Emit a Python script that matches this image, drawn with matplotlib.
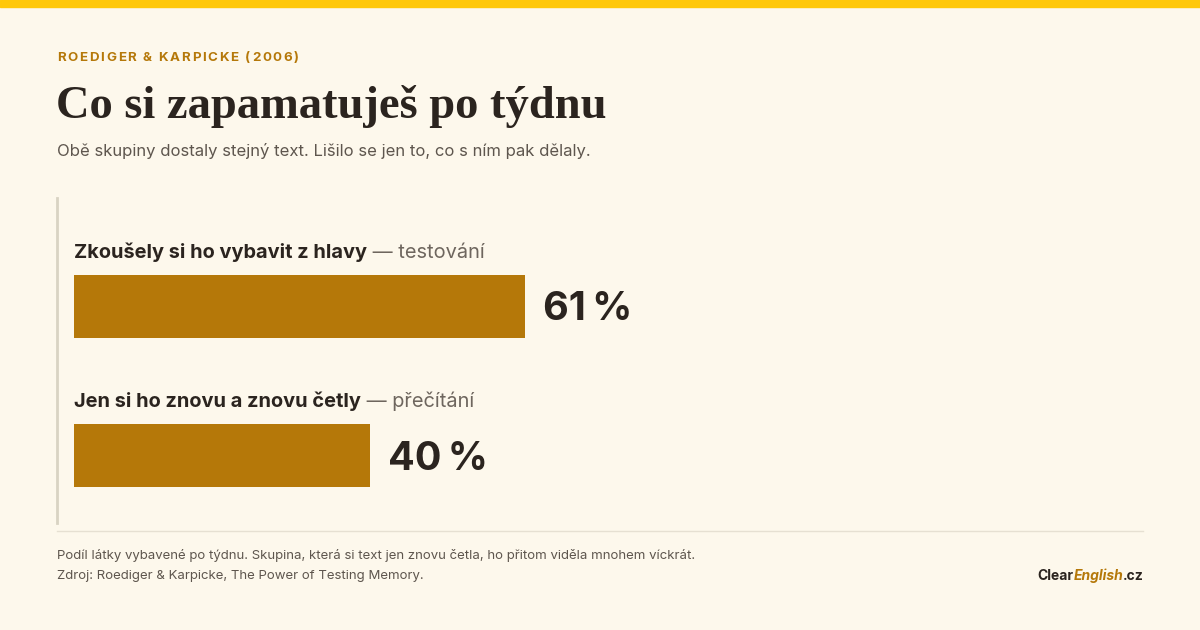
import matplotlib
matplotlib.use("Agg")
import matplotlib.pyplot as plt
from matplotlib.lines import Line2D
from matplotlib.patches import Rectangle

# -----------------------
# Data
# -----------------------
labels_main = ["Zkoušely si ho vybavit z hlavy", "Jen si ho znovu a znovu četly"]
labels_sub = ["testování", "přečítání"]
values = [61, 40]

kicker = "ROEDIGER & KARPICKE (2006)"
title = "Co si zapamatuješ po týdnu"
subtitle = "Obě skupiny dostaly stejný text. Lišilo se jen to, co s ním pak dělaly."
note_1 = "Podíl látky vybavené po týdnu. Skupina, která si text jen znovu četla, ho přitom viděla mnohem víckrát."
note_2 = "Zdroj: Roediger & Karpicke, The Power of Testing Memory."

# -----------------------
# Style
# -----------------------
BG = "#FDF8EC"
GOLD = "#B57809"
DARK = "#2B241F"
GREY = "#5E564E"
LIGHT = "#6E665E"
SANS = ["Inter", "DejaVu Sans"]
SERIF = ["Liberation Serif", "DejaVu Serif"]

W, H = 1200, 630
fig = plt.figure(figsize=(12, 6.3), dpi=100, facecolor=BG)
renderer = fig.canvas.get_renderer()


def fx(px):
    return px / W


def fy(py):
    return 1 - py / H


# top band
fig.patches.append(Rectangle((0, fy(7)), 1, 7 / H, transform=fig.transFigure,
                             color="#FFC80A", zorder=0))

# kicker with letter spacing
x = 57
for ch in kicker:
    t = fig.text(fx(x), fy(58), ch, fontsize=9.6, fontweight="bold", color=GOLD,
                 family=SANS, va="center", ha="left")
    x += t.get_window_extent(renderer).width + 1.7

fig.text(fx(56), fy(106), title, fontsize=33.5, fontweight="bold", color=DARK,
         family=SERIF, va="center", ha="left")
fig.text(fx(57), fy(151), subtitle, fontsize=12, color=GREY,
         family=SANS, va="center", ha="left")

# left rule and bottom rule
fig.lines.append(Line2D([fx(57), fx(57)], [fy(198), fy(523)], transform=fig.transFigure,
                        color="#D9D3C3", lw=2))
fig.lines.append(Line2D([fx(57), fx(1143)], [fy(531), fy(531)], transform=fig.transFigure,
                        color="#E6E0D2", lw=1))

# -----------------------
# Bars
# -----------------------
ax = fig.add_axes([fx(74), 1 - 520 / H, 739 / W, 320 / H])
ax.set_facecolor("none")
pos = list(range(len(values)))
ax.barh(pos, values, height=63 / 149, color=GOLD, left=0)
ax.set_xlim(0, 100)
ax.set_ylim(1 + 64.5 / 149, -106.5 / 149)
ax.axis("off")

for i, v in enumerate(values):
    ax.annotate(f"{v}\u202f%", (v, i), xytext=(18 * 0.72, -3.5 * 0.72), textcoords="offset points",
                fontsize=28.5, fontweight="bold", color=DARK, family=SANS,
                va="center", ha="left")
    t = ax.text(0, i - 48.5 / 149, labels_main[i], fontsize=14.4, fontweight="bold",
                color=DARK, family=SANS, va="baseline", ha="left")
    w = t.get_window_extent(renderer).width
    ax.annotate(" — " + labels_sub[i], (0, i - 48.5 / 149), xytext=(w * 0.72, 0),
                textcoords="offset points", fontsize=14.4, color=LIGHT, family=SANS,
                va="baseline", ha="left")

# -----------------------
# Footer
# -----------------------
fig.text(fx(57), fy(556), note_1, fontsize=9.5, color=GREY, family=SANS, va="center")
fig.text(fx(57), fy(576), note_2, fontsize=9.5, color=GREY, family=SANS, va="center")

t3 = fig.text(fx(1144), fy(576), ".cz", fontsize=10, fontweight="bold", color=DARK,
              family=SANS, va="center", ha="right")
w3 = t3.get_window_extent(renderer).width
t2 = fig.text(fx(1144 - w3), fy(576), "English", fontsize=10, fontweight="bold",
              style="italic", color=GOLD, family=SANS, va="center", ha="right")
w2 = t2.get_window_extent(renderer).width
fig.text(fx(1144 - w3 - w2), fy(576), "Clear", fontsize=10, fontweight="bold",
         color=DARK, family=SANS, va="center", ha="right")

fig.savefig("out.png", dpi=100, facecolor=BG)
